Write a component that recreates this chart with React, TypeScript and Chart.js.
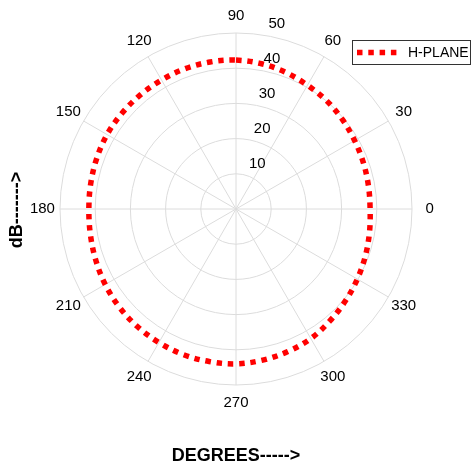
import React, { useEffect, useRef } from "react";
import { Chart, registerables } from "chart.js";

Chart.register(...registerables);

// ---- data ----
const ANGLES_DEG = [
  0, 10, 20, 30, 40, 50, 60, 70, 80, 90, 100, 110, 120, 130, 140, 150, 160, 170,
  180, 190, 200, 210, 220, 230, 240, 250, 260, 270, 280, 290, 300, 310, 320, 330, 340, 350,
];
const H_PLANE_DB = [
  38.1, 38.2, 38.5, 38.9, 39.5, 40.1, 40.6, 41.3, 41.9, 42.3, 42.4, 42.4, 42.3, 42.3, 42.3, 42.3, 42.1, 41.9,
  41.8, 42.0, 42.4, 42.9, 43.3, 43.6, 43.8, 44.0, 44.0, 44.0, 43.6, 43.1, 42.5, 41.5, 40.6, 39.8, 39.1, 38.5,
];
const ANGLE_TICKS = [0, 30, 60, 90, 120, 150, 180, 210, 240, 270, 300, 330];
const RADIAL_TICKS = [10, 20, 30, 40, 50];
const R_MAX = 50;
const SERIES_LABEL = "H-PLANE";
const X_TITLE = "DEGREES----->";
const Y_TITLE = "dB------->";

const FONT = '"Liberation Sans", Arial, Helvetica, sans-serif';
const GRID = "#dcdcdc";
const RED = "#ff0000";
const DASH = [5.5, 5.8];

// radar goes clockwise from the top, so order degrees as 90, 80, ..., 0, 350, ..., 100
const ORDERED_DEG = ANGLES_DEG.map((_, i) => (90 - 10 * i + 360) % 360);
const RADAR_LABELS = ORDERED_DEG.map((d) => String(d));
const RADAR_VALUES = ORDERED_DEG.map((d) => H_PLANE_DB[ANGLES_DEG.indexOf(d)]);

const polarDecor = {
  id: "polarDecor",
  afterDraw(chart: any) {
    const s = chart.scales.r;
    const ctx = chart.ctx as CanvasRenderingContext2D;
    const cx = s.xCenter;
    const cy = s.yCenter;
    const R = s.drawingArea;
    ctx.save();
    ctx.fillStyle = "#000";
    ctx.font = `15px ${FONT}`;
    ctx.textAlign = "center";
    ctx.textBaseline = "middle";
    ANGLE_TICKS.forEach((a) => {
      const t = (a * Math.PI) / 180;
      ctx.fillText(String(a), cx + 1.1 * R * Math.cos(t), cy - 1.1 * R * Math.sin(t));
    });
    ctx.textAlign = "left";
    const t82 = (82 * Math.PI) / 180;
    RADIAL_TICKS.forEach((v) => {
      const d = s.getDistanceFromCenterForValue(v);
      ctx.fillText(String(v), cx + d * Math.cos(t82) + 8, cy - d * Math.sin(t82) - 10.5);
    });

    // legend
    ctx.fillStyle = "#fff";
    ctx.fillRect(352.5, 40.5, 118, 24);
    ctx.strokeStyle = "#333";
    ctx.lineWidth = 1;
    ctx.strokeRect(352.5, 40.5, 118, 24);
    ctx.strokeStyle = RED;
    ctx.lineWidth = 5.5;
    ctx.setLineDash(DASH);
    ctx.beginPath();
    ctx.moveTo(357, 52.5);
    ctx.lineTo(399, 52.5);
    ctx.stroke();
    ctx.setLineDash([]);
    ctx.fillStyle = "#000";
    ctx.font = `14px ${FONT}`;
    ctx.textBaseline = "middle";
    ctx.fillText(SERIES_LABEL, 408, 53);

    // axis titles
    ctx.font = `bold 18px ${FONT}`;
    ctx.textAlign = "center";
    ctx.fillText(X_TITLE, cx, 456);
    ctx.save();
    ctx.translate(17, 210);
    ctx.rotate(-Math.PI / 2);
    ctx.fillText(Y_TITLE, 0, 0);
    ctx.restore();
    ctx.restore();
  },
};

export default function App() {
  const ref = useRef<HTMLCanvasElement | null>(null);
  useEffect(() => {
    if (!ref.current) return;
    const chart = new Chart(ref.current, {
      type: "radar",
      data: {
        labels: RADAR_LABELS,
        datasets: [
          {
            label: SERIES_LABEL,
            data: RADAR_VALUES,
            borderColor: RED,
            backgroundColor: RED,
            borderWidth: 5.5,
            borderDash: DASH,
            borderCapStyle: "butt",
            fill: false,
            pointRadius: 0,
            pointHoverRadius: 0,
            tension: 0.35,
          },
        ],
      },
      options: {
        responsive: false,
        animation: false,
        layout: { padding: { left: 60, right: 60, top: 33, bottom: 85 } },
        plugins: { legend: { display: false }, tooltip: { enabled: false } },
        scales: {
          r: {
            min: 0,
            max: R_MAX,
            ticks: { display: false, stepSize: 10 },
            pointLabels: { display: false },
            grid: { circular: true, color: GRID, lineWidth: 1 },
            angleLines: {
              display: true,
              lineWidth: 1,
              color: (c: any) => (c.index % 3 === 0 ? GRID : "rgba(0,0,0,0)"),
            },
          },
        },
      },
      plugins: [polarDecor],
    });
    return () => chart.destroy();
  }, []);
  return (
    <canvas
      ref={ref}
      width={472}
      height={470}
      style={{ position: "fixed", left: 0, top: 0, width: 472, height: 470 }}
    />
  );
}
